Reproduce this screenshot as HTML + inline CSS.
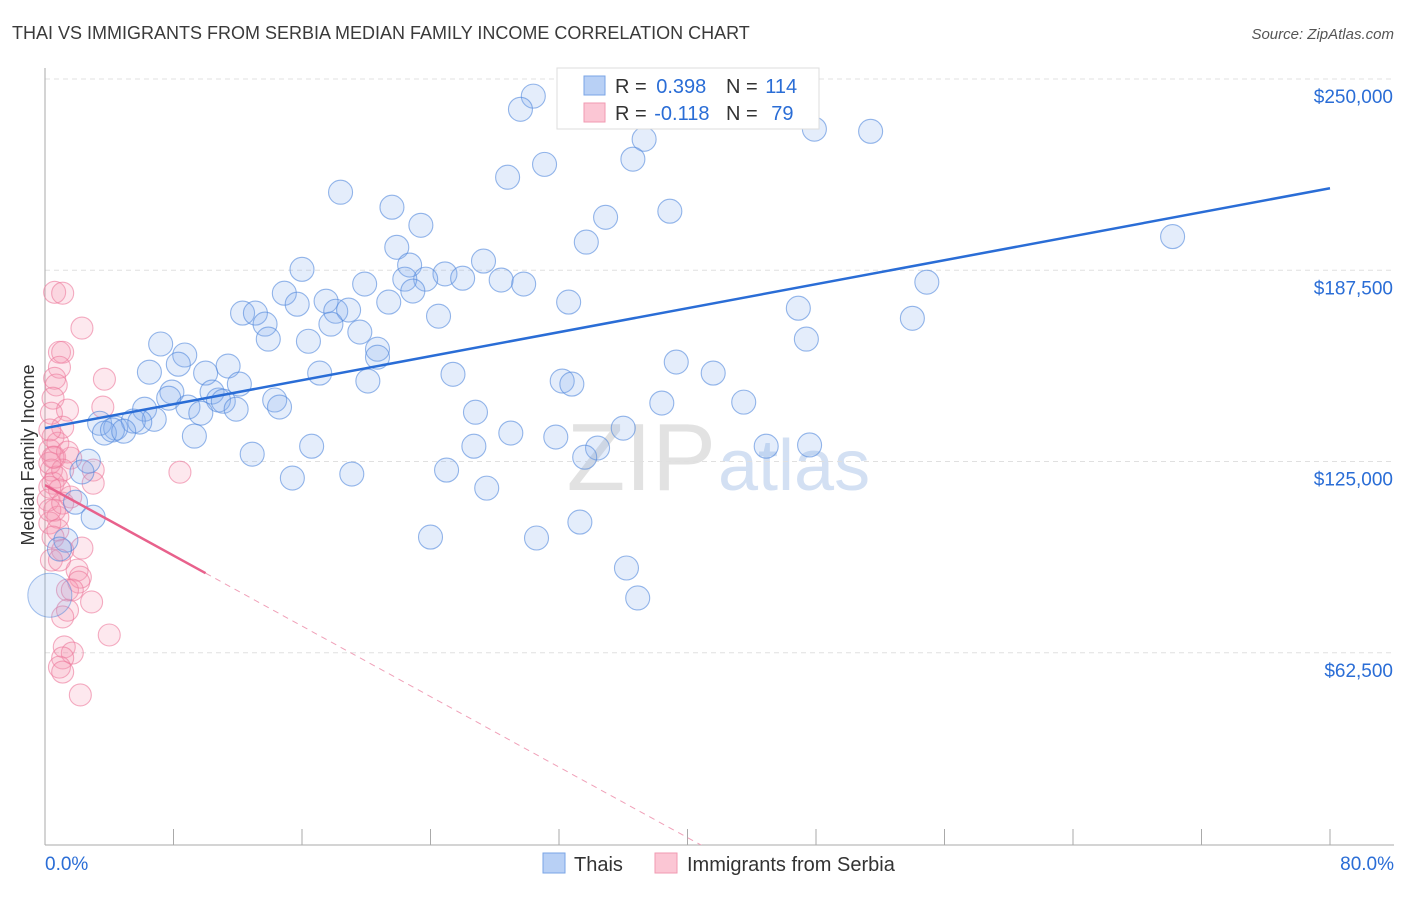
<!DOCTYPE html>
<html><head><meta charset="utf-8"><style>
body{margin:0;background:#fff;font-family:"Liberation Sans",sans-serif}
svg text{font-family:"Liberation Sans",sans-serif}
</style></head><body>
<svg id="c" width="1406" height="892">
<defs><clipPath id="plot"><rect x="45" y="60" width="1350" height="785"/></clipPath></defs>
<text x="12" y="39" font-size="18" fill="#3a3a3a">THAI VS IMMIGRANTS FROM SERBIA MEDIAN FAMILY INCOME CORRELATION CHART</text>
<text x="1394" y="39" font-size="15" fill="#555" font-style="italic" text-anchor="end">Source: ZipAtlas.com</text>
<text x="34" y="455" font-size="18" fill="#333" text-anchor="middle" transform="rotate(-90 34 455)">Median Family Income</text>
<text x="716" y="490" font-size="96" fill="#e2e2e2" text-anchor="end" font-family="Liberation Serif">ZIP</text>
<text x="718" y="490" font-size="72" fill="#d3e0f3">atlas</text>
<g id="grid"></g><g id="pts"></g><g id="lines" clip-path="url(#plot)"></g>
<g>
<rect x="557" y="68" width="262" height="61" fill="#fff" stroke="#ddd"/>
<rect x="584" y="76" width="21" height="19" fill="#b8d0f5" stroke="#7aa4e6"/>
<rect x="584" y="103" width="21" height="19" fill="#fbc6d4" stroke="#f09ab2"/>
<text x="615" y="93" font-size="20" fill="#333">R = <tspan fill="#2a6dd6" dx="4">0.398</tspan></text>
<text x="726" y="93" font-size="20" fill="#333">N = <tspan fill="#2a6dd6" dx="2">114</tspan></text>
<text x="615" y="120" font-size="20" fill="#333">R = <tspan fill="#2a6dd6" dx="2">-0.118</tspan></text>
<text x="726" y="120" font-size="20" fill="#333">N = <tspan fill="#2a6dd6" dx="8">79</tspan></text>
</g>
<g>
<rect x="543" y="853" width="22" height="20" fill="#b8d0f5" stroke="#7aa4e6"/>
<text x="574" y="871" font-size="20" fill="#333">Thais</text>
<rect x="655" y="853" width="22" height="20" fill="#fbc6d4" stroke="#f09ab2"/>
<text x="687" y="871" font-size="20" fill="#333">Immigrants from Serbia</text>
</g>
</svg>
<script>
const yTicks=[62.5,125,187.5,250];
const yTickLabels=["$62,500","$125,000","$187,500","$250,000"];
const xTickLabels=["0.0%","80.0%"];
const thaiX=[30.4,29.6,37.3,31.1,36.6,47.9,51.4,28.8,18.4,21.6,23.4,34.9,38.9,70.2,21.9,33.7,16.0,22.7,27.3,24.9,26.0,23.7,22.4,28.4,29.8,14.9,19.9,22.9,17.5,15.7,21.4,32.6,12.3,13.1,18.1,18.9,24.5,46.9,54.9,54.0,13.7,17.8,19.6,13.9,16.4,47.4,7.2,8.7,20.7,20.7,6.5,8.3,11.4,10.0,17.1,25.4,39.3,41.6,32.2,32.8,20.1,12.1,7.9,7.7,10.4,8.9,10.8,11.1,9.7,11.9,14.3,14.6,38.4,43.5,26.8,6.2,6.8,3.4,4.4,5.5,5.9,3.7,4.2,4.9,9.3,36.0,29.0,31.8,26.7,16.6,12.9,44.9,47.6,34.4,33.6,25.0,19.1,15.4,27.5,2.7,2.3,1.9,3.0,33.3,24.0,30.6,1.3,0.9,36.2,36.9];
const thaiY=[244.4,240.1,230.3,222.1,223.8,233.6,232.9,217.9,213.0,208.1,202.2,204.8,206.8,198.5,195.0,196.7,187.8,189.2,190.5,186.3,184.9,184.6,184.6,184.3,183.0,180.0,183.0,180.7,177.4,176.4,177.1,177.1,173.5,173.5,174.1,174.5,172.5,175.1,183.6,171.8,169.9,169.9,167.3,165.0,164.3,165.0,163.4,159.8,161.7,159.1,154.2,156.8,156.2,153.9,153.9,153.5,157.5,153.9,151.3,150.3,151.3,150.3,147.7,145.7,147.7,142.8,145.1,144.7,140.8,142.1,145.1,142.8,144.1,144.4,141.1,142.1,138.8,137.5,135.9,138.2,137.9,134.3,135.3,134.9,133.3,135.9,134.3,133.0,130.0,130.0,127.4,130.0,130.4,129.4,126.4,122.2,120.9,119.6,116.3,125.1,121.6,111.7,106.8,105.2,100.3,100.0,99.3,96.4,90.2,80.4];
const serbX=[0.6,1.1,2.3,0.9,1.1,0.9,0.6,0.7,3.7,0.5,3.6,1.4,0.4,0.5,0.3,0.6,1.6,3.0,8.4,0.4,0.7,0.5,0.9,3.0,0.2,0.6,0.8,0.3,0.8,2.3,0.5,1.1,0.4,2.0,2.2,2.1,1.4,2.9,1.4,1.1,4.0,1.2,1.7,1.1,0.9,1.1,2.2,0.8,1.1,0.3,1.4,0.3,1.1,1.6,0.3,1.1,0.3,0.5,0.9,1.7];
const serbY=[180.3,180.0,168.6,160.7,160.7,155.8,152.2,150.0,151.9,145.7,142.8,141.8,140.8,133.0,128.7,126.4,126.1,122.2,121.5,122.2,119.9,117.9,115.7,117.9,112.4,109.1,106.8,104.9,102.6,96.7,100.3,96.0,92.8,89.5,87.2,85.6,83.0,79.1,76.4,74.2,68.3,64.4,62.4,60.8,57.8,56.2,48.7,131.0,136.2,135.3,128.1,124.5,122.2,113.4,109.1,111.4,116.6,126.4,92.8,83.0];
const thaiTrend=[[0,135.9],[80,214.3]];
const serbTrendSolid=[[0,117.3],[10,88.5]];
const serbTrendDash=[[10,88.5],[42.6,-5.4]];
const NS="http://www.w3.org/2000/svg";
const X0=45,X1=1330,Y0=844,Y250=79;
const sx=v=>X0+(X1-X0)*v/80;
const sy=v=>Y0-(Y0-Y250)*v/250;
function mk(t,a,p){const e=document.createElementNS(NS,t);for(const k in a)e.setAttribute(k,a[k]);p.appendChild(e);return e;}
const grid=document.getElementById('grid');
yTicks.forEach((t,i)=>{
 const l=mk('line',{x1:X0,x2:1394,y1:sy(t),y2:sy(t),stroke:'#e0e0e0','stroke-dasharray':'5,4'},grid);
 
 
 const tx=mk('text',{x:1393,y:sy(t)+24,'font-size':19,fill:'#2a6dd6','text-anchor':'end'},grid);
 tx.textContent=yTickLabels[i];
 
 
});
const ax=mk('line',{x1:X0,x2:X0,y1:68,y2:845,stroke:'#aaa'},grid);


const bx=mk('line',{x1:X0,x2:1394,y1:845,y2:845,stroke:'#aaa'},grid);


for(let i=1;i<=10;i++){const tk=mk('line',{x1:sx(i*8),x2:sx(i*8),y1:829,y2:845,stroke:'#aaa'},grid);
 
 }
[[0,'start',X0],[80,'end',1394]].forEach((d,i)=>{const t=mk('text',{x:d[2],y:870,'font-size':19,fill:'#2a6dd6','text-anchor':d[1]},grid);t.textContent=xTickLabels[i];
 
 });
const pts=document.getElementById('pts');
serbX.forEach((x,i)=>{const c=mk('circle',{cx:sx(x),cy:sy(serbY[i]),r:11,fill:'rgba(244,150,178,0.22)',stroke:'rgba(236,120,155,0.6)','stroke-width':1.1},pts);
 
 });
thaiX.forEach((x,i)=>{const c=mk('circle',{cx:sx(x),cy:sy(thaiY[i]),r:12,fill:'rgba(130,172,235,0.22)',stroke:'rgba(80,135,220,0.6)','stroke-width':1.1},pts);
 
 });
const big=mk('circle',{cx:sx(0.3),cy:sy(81.3),r:22,fill:'rgba(130,172,235,0.22)',stroke:'rgba(80,135,220,0.5)'},pts);


const lines=document.getElementById('lines');
function ln(d,st,n){const l=mk('line',Object.assign({x1:sx(d[0][0]),y1:sy(d[0][1]),x2:sx(d[1][0]),y2:sy(d[1][1])},st),lines);
 
 }
ln(thaiTrend,{stroke:'#2a6dd6','stroke-width':2.5},'thai-trend-line');
ln(serbTrendSolid,{stroke:'#e8618c','stroke-width':2.5},'serbia-trend-line');
ln(serbTrendDash,{stroke:'#f0a0b8','stroke-width':1,'stroke-dasharray':'6,5'},'serbia-trend-extension');
</script>
</body></html>
